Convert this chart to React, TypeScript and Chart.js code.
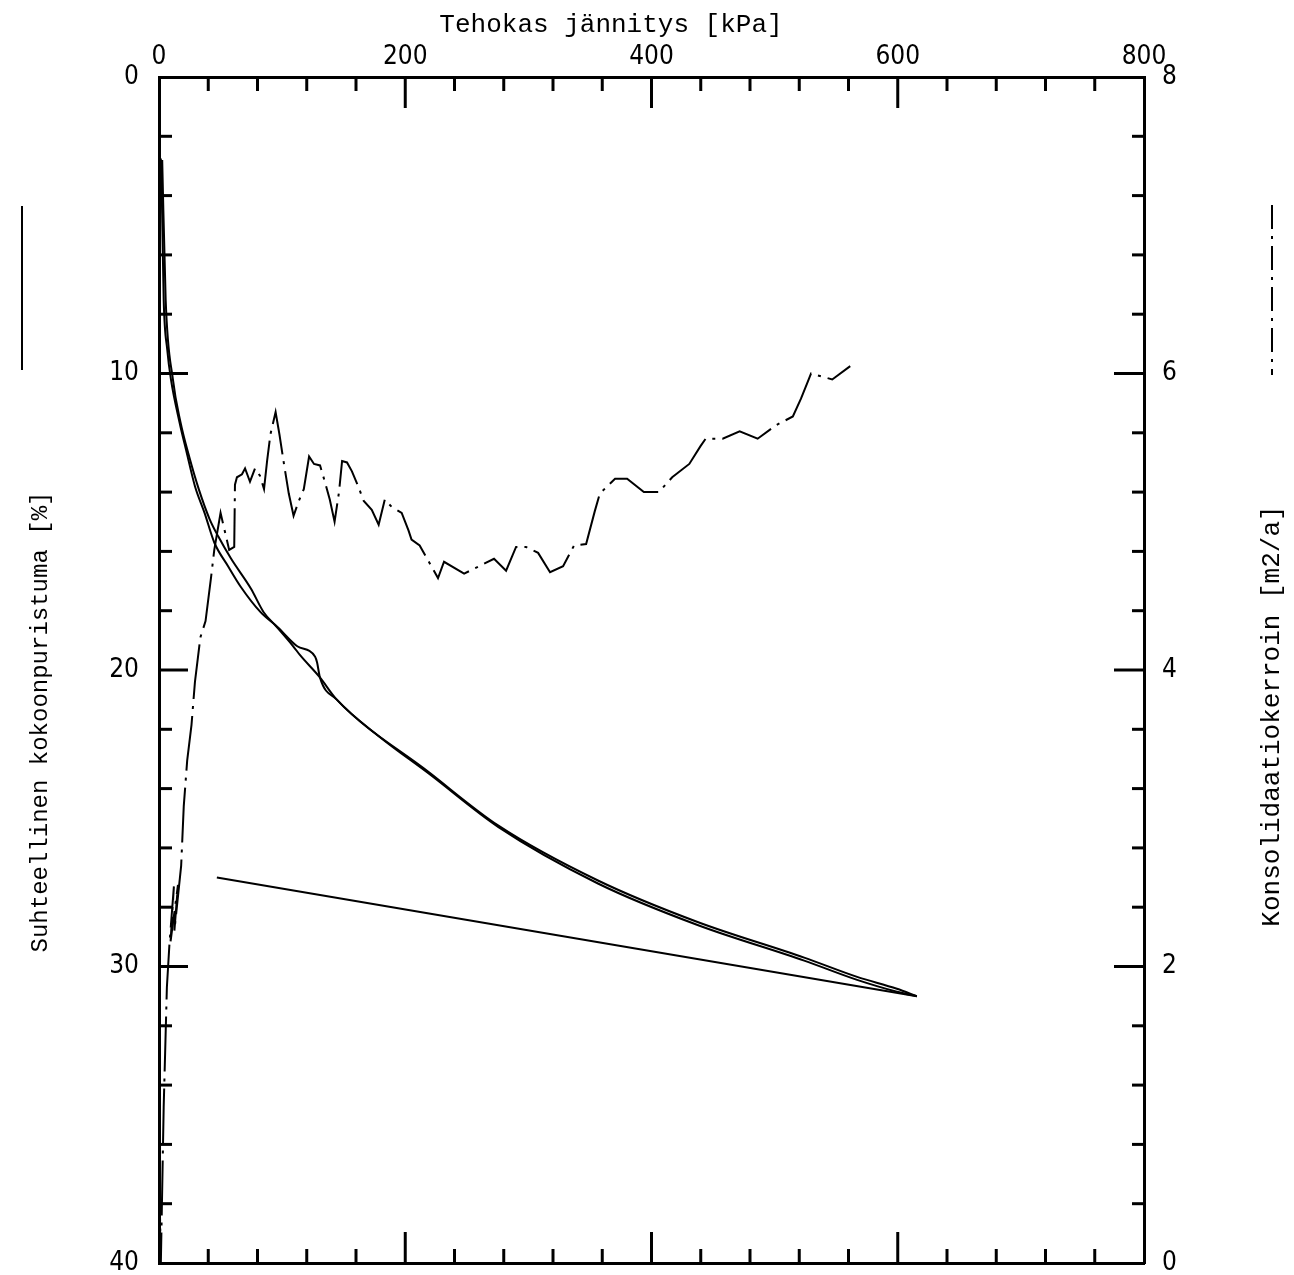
import { useEffect, useRef } from 'react';
import { Chart, registerables } from 'chart.js';

Chart.register(...registerables);

// ---- Data ----
// Measured compression curve: effective stress [kPa] vs relative compression [%]
const measuredStress = [1.8, 2.8, 3.8, 6.7, 9.7, 16.7, 22.1, 29.2, 37.0, 44.9, 56.1, 66.5, 82.5, 96.2, 112.3, 126.8, 128.4, 130.7, 144.4, 179, 219.3, 275.7, 356.5, 437.4, 524, 567, 599.3, 615.5];
const measuredStrain = [2.8, 5.2, 7.5, 9.2, 10.2, 11.65, 12.6, 13.8, 14.7, 15.7, 16.5, 17.2, 18.05, 18.55, 19.2, 19.55, 19.75, 20.25, 21.0, 22.25, 23.5, 25.3, 27.2, 28.6, 29.8, 30.45, 30.85, 31.0];

// Fitted (smooth) compression curve
const fittedStress = [2.6, 5.4, 11.3, 17.5, 24.5, 32.3, 41.0, 48.2, 58.6, 74.6, 85.0, 94.6, 109.0, 114.6, 130.7, 144.4, 219.3, 275.7, 356.5, 437.4, 524, 567, 599.3, 615.5];
const fittedStrain = [2.8, 7.5, 10.2, 11.65, 12.8, 13.9, 14.9, 15.5, 16.25, 17.25, 18.05, 18.5, 19.2, 19.5, 20.25, 21.0, 23.45, 25.25, 27.1, 28.5, 29.7, 30.35, 30.75, 31.0];

// Unloading line
const unloadStress = [615.5, 47];
const unloadStrain = [31.0, 27.0];

// Coefficient of consolidation [m2/a]
const cvStress = [1.5, 0.2, 0.2, 1.5, 3.8, 6.4, 8.4, 12.1, 9.4, 15.4, 12.5, 18.0, 20.1, 22.9, 26.4, 29.2, 33.6, 37.8, 42.2, 44.9, 50.0, 57.0, 61.1, 61.7, 63.3, 67.4, 69.9, 73.9, 78.0, 82.0, 85.3, 87.8, 90.5, 94.7, 97.8, 101.5, 105.4, 109.3, 113.5, 117.6, 121.9, 125.9, 130.8, 134.7, 138.7, 142.6, 146.2, 148.7, 152.7, 156.7, 162.2, 166.3, 172.8, 178.4, 183.4, 189.0, 197.1, 202.7, 205.1, 211.7, 226.6, 231.5, 247.8, 272.1, 281.9, 290, 298.1, 307.9, 317.6, 328.2, 337.1, 346.9, 353.9, 358, 370.4, 380.2, 393.8, 406, 416.8, 430.7, 439.8, 444, 457.8, 471.6, 486.2, 500.9, 514.8, 521.4, 527.2, 529.6, 546.8, 561.4];
const cvValue = [7.45, 6.6, 0.6, 0.0, 1.05, 1.86, 2.14, 2.54, 2.17, 2.55, 2.24, 2.68, 3.08, 3.39, 3.63, 3.92, 4.22, 4.33, 4.62, 4.81, 5.06, 4.81, 4.83, 5.25, 5.30, 5.32, 5.36, 5.27, 5.36, 5.31, 5.22, 5.41, 5.59, 5.74, 5.59, 5.39, 5.19, 5.04, 5.14, 5.22, 5.44, 5.39, 5.38, 5.27, 5.15, 5.0, 5.2, 5.41, 5.40, 5.34, 5.23, 5.14, 5.08, 4.98, 5.15, 5.10, 5.06, 4.94, 4.88, 4.84, 4.62, 4.73, 4.65, 4.75, 4.67, 4.83, 4.83, 4.79, 4.66, 4.70, 4.84, 4.85, 5.07, 5.19, 5.29, 5.29, 5.20, 5.20, 5.30, 5.39, 5.51, 5.56, 5.56, 5.61, 5.56, 5.65, 5.71, 5.83, 5.95, 6.0, 5.96, 6.05];

// Tick labels
const xTickLabels = [0, 200, 400, 600, 800];
const leftTickLabels = [0, 10, 20, 30, 40];
const rightTickLabels = [0, 2, 4, 6, 8];

const xTitle = 'Tehokas jännitys [kPa]';
const leftTitle = 'Suhteellinen kokoonpuristuma [%]';
const rightTitle = 'Konsolidaatiokerroin [m2/a]';

const zip = (xs: number[], ys: number[]) => xs.map((x, i) => ({ x, y: ys[i] }));
const isMult = (v: number, step: number) => Math.abs(v / step - Math.round(v / step)) < 1e-6;
const hasLabel = (list: number[], v: number) => list.some((l) => Math.abs(l - v) < 1e-6);

const TICK_FONT = { family: "'DejaVu Sans Condensed', 'Liberation Sans Narrow', 'DejaVu Sans', sans-serif", size: 26 };
const DASH_DOT = [55, 7, 3, 7];

const frameDecor = {
  id: 'frameDecor',
  afterDraw(chart: any) {
    const { ctx, chartArea: a, scales } = chart;
    ctx.save();
    ctx.strokeStyle = '#000';
    ctx.lineCap = 'butt';
    ctx.lineWidth = 3;
    const line = (x1: number, y1: number, x2: number, y2: number) => {
      ctx.beginPath();
      ctx.moveTo(x1, y1);
      ctx.lineTo(x2, y2);
      ctx.stroke();
    };
    // inward ticks
    const sx = scales.x;
    sx.ticks.forEach((t: any) => {
      const v = t.value;
      if (v <= sx.min || v >= sx.max) return;
      const p = sx.getPixelForValue(v);
      line(p, a.top, p, a.top + (isMult(v, 200) ? 31 : 14));
    });
    const sx2 = scales.x2;
    sx2.ticks.forEach((t: any) => {
      const v = t.value;
      if (v <= sx2.min || v >= sx2.max) return;
      const p = sx2.getPixelForValue(v);
      line(p, a.bottom, p, a.bottom - (isMult(v, 200) ? 31 : 14));
    });
    const sy = scales.y;
    sy.ticks.forEach((t: any) => {
      const v = t.value;
      if (v <= sy.min || v >= sy.max) return;
      const p = sy.getPixelForValue(v);
      line(a.left, p, a.left + (isMult(v, 10) ? 29 : 13), p);
    });
    const sy2 = scales.y2;
    sy2.ticks.forEach((t: any) => {
      const v = t.value;
      if (v <= sy2.min + 1e-6 || v >= sy2.max - 1e-6) return;
      const p = sy2.getPixelForValue(v);
      line(a.right, p, a.right - (isMult(v, 2) ? 30 : 12), p);
    });

    // titles
    ctx.fillStyle = '#000';
    ctx.textAlign = 'center';
    ctx.textBaseline = 'middle';
    ctx.font = "26px 'Liberation Mono', 'DejaVu Sans Mono', monospace";
    ctx.fillText(xTitle, 611, 25);

    ctx.save();
    ctx.translate(41, 722);
    ctx.rotate(-Math.PI / 2);
    ctx.font = "24px 'Liberation Mono', 'DejaVu Sans Mono', monospace";
    ctx.fillText(leftTitle, 0, 0);
    ctx.restore();

    ctx.save();
    ctx.translate(1272, 716);
    ctx.rotate(-Math.PI / 2);
    ctx.font = "26px 'Liberation Mono', 'DejaVu Sans Mono', monospace";
    ctx.fillText(rightTitle, 0, 0);
    ctx.restore();

    // legend keys
    ctx.lineWidth = 2;
    line(22, 206, 22, 370);
    ctx.setLineDash([24, 7, 3, 7]);
    line(1272, 205, 1272, 375);
    ctx.setLineDash([]);
    ctx.restore();
  },
};

export default function App() {
  const ref = useRef<HTMLCanvasElement>(null);

  useEffect(() => {
    const canvas = ref.current;
    if (!canvas) return;
    document.body.style.overflow = 'hidden';
    const lineBase = {
      borderColor: '#000',
      borderWidth: 2,
      pointRadius: 0,
      fill: false,
      tension: 0,
      xAxisID: 'x',
    };
    const chart = new Chart(canvas, {
      type: 'line',
      data: {
        datasets: [
          { ...lineBase, label: 'mitattu', data: zip(measuredStress, measuredStrain), yAxisID: 'y', cubicInterpolationMode: 'monotone' },
          { ...lineBase, label: 'sovitettu', data: zip(fittedStress, fittedStrain), yAxisID: 'y', cubicInterpolationMode: 'monotone' },
          { ...lineBase, label: 'kevennys', data: zip(unloadStress, unloadStrain), yAxisID: 'y' },
          { ...lineBase, label: 'cv', data: zip(cvStress, cvValue), yAxisID: 'y2', borderDash: DASH_DOT },
        ] as any,
      },
      options: {
        animation: false,
        responsive: true,
        maintainAspectRatio: false,
        devicePixelRatio: 1,
        events: [],
        layout: { padding: 0 },
        plugins: { legend: { display: false }, tooltip: { enabled: false }, title: { display: false } },
        scales: {
          x: {
            type: 'linear',
            position: 'top',
            min: 0,
            max: 800,
            grid: { display: true, drawOnChartArea: false, drawTicks: false },
            border: { display: true, color: '#000', width: 3 },
            ticks: {
              stepSize: 40,
              autoSkip: false,
              maxRotation: 0,
              minRotation: 0,
              padding: 4,
              color: '#000',
              font: TICK_FONT,
              callback: (v: any) => (hasLabel(xTickLabels, Number(v)) ? String(Math.round(Number(v))) : ''),
            },
            afterFit: (s: any) => {
              s.height = 77;
              s.paddingLeft = 0;
              s.paddingRight = 0;
            },
          },
          x2: {
            type: 'linear',
            position: 'bottom',
            min: 0,
            max: 800,
            grid: { display: true, drawOnChartArea: false, drawTicks: false },
            border: { display: true, color: '#000', width: 3 },
            ticks: { stepSize: 40, display: false, autoSkip: false },
            afterFit: (s: any) => {
              s.height = 12;
              s.paddingLeft = 0;
              s.paddingRight = 0;
            },
          },
          y: {
            type: 'linear',
            position: 'left',
            reverse: true,
            min: 0,
            max: 40,
            grid: { display: true, drawOnChartArea: false, drawTicks: false },
            border: { display: true, color: '#000', width: 3 },
            ticks: {
              stepSize: 2,
              autoSkip: false,
              padding: 20,
              color: '#000',
              font: TICK_FONT,
              callback: (v: any) => (hasLabel(leftTickLabels, Number(v)) ? String(Math.round(Number(v))) : ''),
            },
            afterFit: (s: any) => {
              s.width = 159;
              s.paddingTop = 0;
              s.paddingBottom = 0;
            },
          },
          y2: {
            type: 'linear',
            position: 'right',
            min: 0,
            max: 8,
            grid: { display: true, drawOnChartArea: false, drawTicks: false },
            border: { display: true, color: '#000', width: 3 },
            ticks: {
              stepSize: 0.4,
              autoSkip: false,
              padding: 18,
              color: '#000',
              font: TICK_FONT,
              callback: (v: any) => (hasLabel(rightTickLabels, Number(v)) ? String(Math.round(Number(v))) : ''),
            },
            afterFit: (s: any) => {
              s.width = 150;
              s.paddingTop = 0;
              s.paddingBottom = 0;
            },
          },
        } as any,
      },
      plugins: [frameDecor],
    });
    return () => chart.destroy();
  }, []);

  return (
    <div style={{ position: 'absolute', left: 0, top: 0, width: 1294, height: 1275, background: '#fff' }}>
      <canvas ref={ref} />
    </div>
  );
}
